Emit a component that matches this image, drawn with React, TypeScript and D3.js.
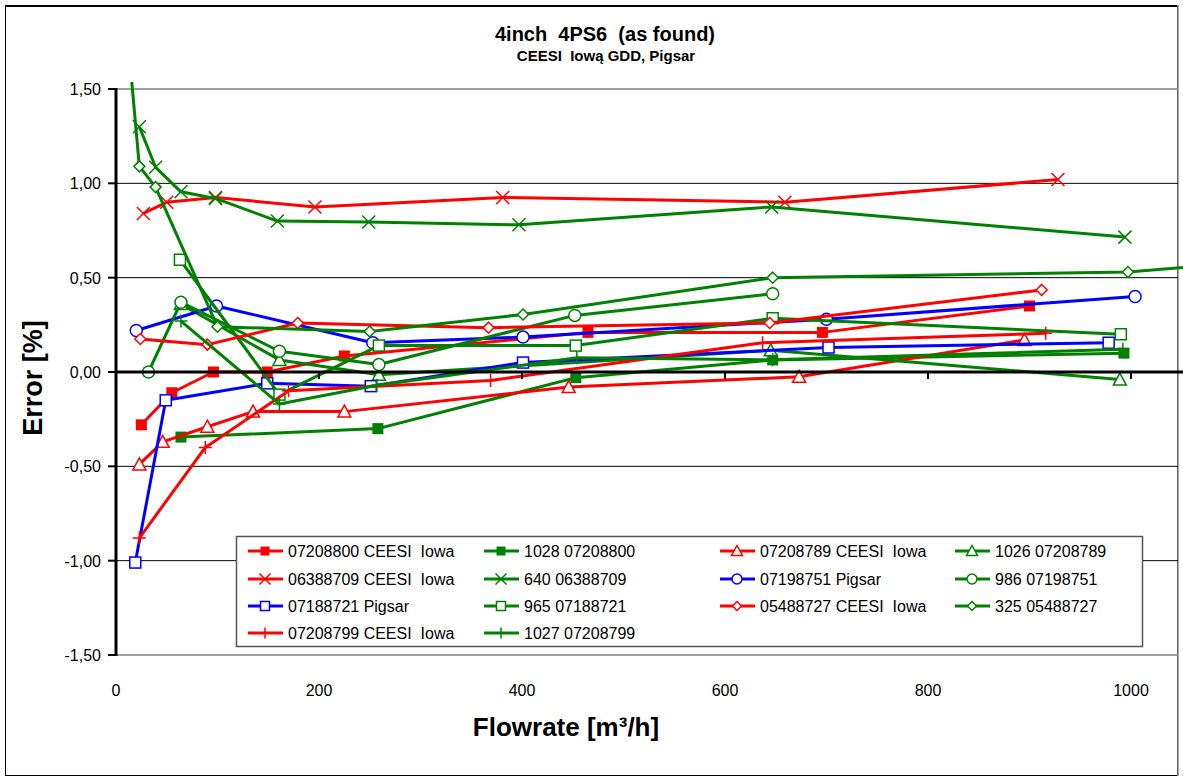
import React from 'react';
import * as d3 from 'd3';

// flowrate [m3/h] and error [%]
const s1x = [25, 55, 96, 149, 225, 465, 696, 900];
const s1y = [-0.28, -0.11, 0.0, 0.0, 0.085, 0.21, 0.21, 0.35];
const s2x = [64, 258, 453, 647, 993];
const s2y = [-0.345, -0.3, -0.03, 0.064, 0.1];
const s3x = [23, 46, 90, 135, 225, 446, 673, 895];
const s3y = [-0.49, -0.37, -0.29, -0.21, -0.21, -0.08, -0.025, 0.17];
const s4x = [64, 161, 259, 645, 989];
const s4y = [0.36, 0.064, -0.015, 0.115, -0.04];
const s5x = [27, 50, 98, 196, 381, 659, 928];
const s5y = [0.84, 0.9, 0.925, 0.875, 0.925, 0.9, 1.02];
const s6x = [23, 39, 64, 98, 159, 249, 397, 646, 994];
const s6y = [1.3, 1.085, 0.955, 0.92, 0.8, 0.795, 0.78, 0.875, 0.715];
const s7x = [20, 99, 253, 401, 700, 1004];
const s7y = [0.22, 0.35, 0.155, 0.185, 0.28, 0.4];
const s8x = [32, 64, 161, 259, 452, 647];
const s8y = [0.0, 0.37, 0.11, 0.04, 0.3, 0.415];
const s9x = [19, 49, 149, 251, 401, 702, 978];
const s9y = [-1.01, -0.15, -0.06, -0.075, 0.05, 0.13, 0.155];
const s10x = [63, 161, 259, 453, 647, 990];
const s10y = [0.595, -0.12, 0.14, 0.14, 0.285, 0.2];
const s11x = [24, 90, 179, 367, 644, 912];
const s11y = [0.175, 0.145, 0.26, 0.235, 0.26, 0.435];
const s12x = [12, 23, 39, 100, 250, 401, 647, 997, 1200];
const s12y = [1.75, 1.09, 0.98, 0.24, 0.215, 0.305, 0.5, 0.53, 0.62];
const s13x = [23, 88, 170, 369, 637, 916];
const s13y = [-0.88, -0.4, -0.1, -0.045, 0.155, 0.205];
const s14x = [64, 161, 257, 454, 647, 992];
const s14y = [0.27, -0.17, -0.07, 0.075, 0.065, 0.12];

const seriesNames = [
  '07208800 CEESI  Iowa', '1028 07208800', '07208789 CEESI  Iowa', '1026 07208789',
  '06388709 CEESI  Iowa', '640 06388709', '07198751 Pigsar', '986 07198751',
  '07188721 Pigsar', '965 07188721', '05488727 CEESI  Iowa', '325 05488727',
  '07208799 CEESI  Iowa', '1027 07208799',
];
const seriesX = [s1x, s2x, s3x, s4x, s5x, s6x, s7x, s8x, s9x, s10x, s11x, s12x, s13x, s14x];
const seriesY = [s1y, s2y, s3y, s4y, s5y, s6y, s7y, s8y, s9y, s10y, s11y, s12y, s13y, s14y];
const RED = '#ff0000', GREEN = '#008000', BLUE = '#0000ff';
const seriesColors = [RED, GREEN, RED, GREEN, RED, GREEN, BLUE, GREEN, BLUE, GREEN, RED, GREEN, RED, GREEN];
const seriesMarkers = ['fsquare', 'fsquare', 'tri', 'tri', 'x', 'x', 'circle', 'circle', 'square', 'square', 'diamond', 'diamond', 'plus', 'plus'];

const xTicks = [0, 200, 400, 600, 800, 1000];
const yTicks = [-1.5, -1.0, -0.5, 0, 0.5, 1.0, 1.5];

const W = 1183, H = 783;
const FONT = 'Liberation Sans, Arial, sans-serif';

function Marker({ type, cx, cy, color, s }: { type: string; cx: number; cy: number; color: string; s: number }) {
  const h = s / 2;
  switch (type) {
    case 'fsquare':
      return <rect x={cx - h} y={cy - h} width={s} height={s} fill={color} />;
    case 'square':
      return <rect x={cx - h} y={cy - h} width={s} height={s} fill="#fff" stroke={color} strokeWidth={1.5} />;
    case 'circle':
      return <circle cx={cx} cy={cy} r={h + 0.5} fill="#fff" stroke={color} strokeWidth={1.5} />;
    case 'tri':
      return <path d={`M${cx},${cy - h - 1}L${cx + h + 1},${cy + h}L${cx - h - 1},${cy + h}Z`} fill="#fff" stroke={color} strokeWidth={1.5} />;
    case 'diamond':
      return <path d={`M${cx},${cy - h}L${cx + h},${cy}L${cx},${cy + h}L${cx - h},${cy}Z`} fill="#fff" stroke={color} strokeWidth={1.5} />;
    case 'x':
      return <path d={`M${cx - h},${cy - h}L${cx + h},${cy + h}M${cx + h},${cy - h}L${cx - h},${cy + h}`} stroke={color} strokeWidth={1.5} fill="none" />;
    case 'plus':
      return <path d={`M${cx - h},${cy}L${cx + h},${cy}M${cx},${cy - h}L${cx},${cy + h}`} stroke={color} strokeWidth={1.5} fill="none" />;
    default:
      return null;
  }
}

const App = () => {
  const x = d3.scaleLinear().domain([0, 1000]).range([116, 1131]);
  const y = d3.scaleLinear().domain([-1.5, 1.5]).range([655, 89]);
  const fmt = (v: number) => v.toFixed(2).replace('.', ',');

  const line = d3.line<[number, number]>().x(d => x(d[0])).y(d => y(d[1]));

  const legCols = [265, 501, 737, 972];
  const legRows = [551, 579, 606, 633];

  return (
    <svg width={W} height={H} style={{ position: 'absolute', left: 0, top: 0, background: '#fff' }} fontFamily={FONT}>
      <defs>
        <clipPath id="plotclip">
          <rect x={100} y={82} width={W - 100} height={655 - 82 + 10} />
        </clipPath>
      </defs>
      {/* chart frame */}
      <rect x={5.5} y={5.5} width={1172} height={770} fill="#fff" stroke="#000" strokeWidth={1} />
      <line x1={5} x2={1178} y1={6} y2={6} stroke="#000" strokeWidth={2} />
      <line x1={1178} x2={1178} y1={5} y2={776} stroke="#888" strokeWidth={1.5} />

      {/* title */}
      <text x={605} y={41} textAnchor="middle" fontSize={20} fontWeight="bold" style={{ whiteSpace: 'pre' }}>4inch  4PS6  (as found)</text>
      <text x={606} y={61} textAnchor="middle" fontSize={15} fontWeight="bold" style={{ whiteSpace: 'pre' }}>CEESI  Iową GDD, Pigsar</text>

      {/* plot border + grid */}
      <line x1={116} x2={1178} y1={y(1.5)} y2={y(1.5)} stroke="#808080" strokeWidth={1.5} />
      <line x1={116} x2={1178} y1={y(-1.5)} y2={y(-1.5)} stroke="#808080" strokeWidth={1.5} />
      {yTicks.filter(t => Math.abs(t) > 0.01 && Math.abs(t) < 1.4).map(t => (
        <line key={t} x1={116} x2={1178} y1={y(t)} y2={y(t)} stroke="#000" strokeWidth={1} />
      ))}

      {/* series */}
      <g clipPath="url(#plotclip)">
        {seriesX.map((xs, i) => {
          const pts: [number, number][] = xs.map((v, k) => [v, seriesY[i][k]]);
          return (
            <g key={i}>
              <path d={line(pts) || ''} fill="none" stroke={seriesColors[i]} strokeWidth={3} strokeLinejoin="round" />
              {pts.map((p, k) => (
                <Marker key={k} type={seriesMarkers[i]} cx={x(p[0])} cy={y(p[1])} color={seriesColors[i]} s={seriesMarkers[i] === 'x' || seriesMarkers[i] === 'plus' ? 13 : 11} />
              ))}
            </g>
          );
        })}
      </g>

      {/* axes */}
      <line x1={116} x2={1183} y1={y(0)} y2={y(0)} stroke="#000" strokeWidth={3} />
      {xTicks.filter(t => t > 0).map(t => (
        <line key={t} x1={x(t)} x2={x(t)} y1={y(0)} y2={y(0) + 7} stroke="#000" strokeWidth={2} />
      ))}
      <line x1={116} x2={116} y1={y(1.5) - 1} y2={y(-1.5) + 1} stroke="#000" strokeWidth={3} />
      {yTicks.map(t => (
        <line key={t} x1={108} x2={116} y1={y(t)} y2={y(t)} stroke="#000" strokeWidth={2} />
      ))}
      {yTicks.map(t => (
        <text key={t} x={101} y={y(t) + 6} textAnchor="end" fontSize={16}>{fmt(t)}</text>
      ))}
      {xTicks.map(t => (
        <text key={t} x={x(t)} y={696} textAnchor="middle" fontSize={16}>{t}</text>
      ))}

      <text x={566} y={736} textAnchor="middle" fontSize={26} fontWeight="bold">Flowrate [m³/h]</text>
      <text transform={`translate(42,${y(0) + 6}) rotate(-90)`} textAnchor="middle" fontSize={27} fontWeight="bold">Error [%]</text>

      {/* legend */}
      <rect x={236.5} y={536.5} width={906} height={110} fill="#fff" stroke="#555" strokeWidth={1.5} />
      {seriesNames.map((name, i) => {
        const cx = legCols[i % 4];
        const cy = legRows[Math.floor(i / 4)];
        return (
          <g key={name}>
            <line x1={cx - 17} x2={cx + 18} y1={cy} y2={cy} stroke={seriesColors[i]} strokeWidth={3} />
            <Marker type={seriesMarkers[i]} cx={cx} cy={cy} color={seriesColors[i]} s={seriesMarkers[i] === 'x' || seriesMarkers[i] === 'plus' ? 11 : 9} />
            <text x={cx + 23} y={cy + 6} fontSize={16} style={{ whiteSpace: 'pre' }}>{name}</text>
          </g>
        );
      })}
    </svg>
  );
};

export default App;
